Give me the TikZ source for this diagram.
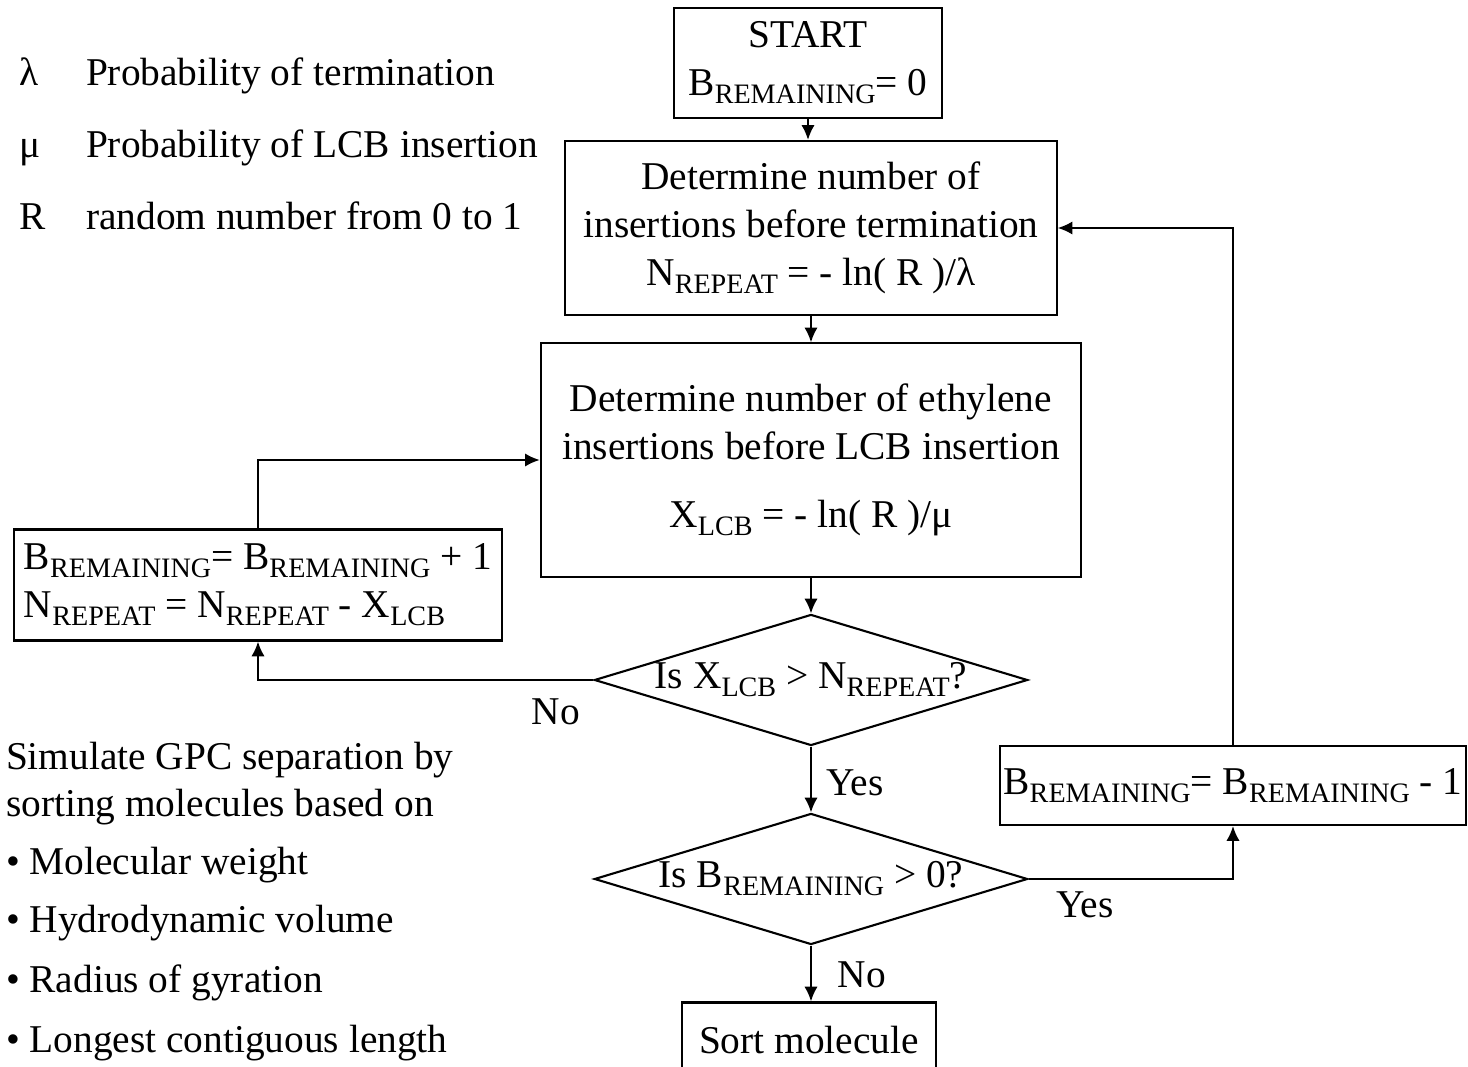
\documentclass[tikz,border=0pt]{standalone}
\usepackage{fontspec}
\setmainfont{Liberation Serif}
\usetikzlibrary{shapes.geometric,arrows.meta}
\newcommand{\sbs}[1]{\raisebox{-2.3pt}{\fontsize{8}{8}\selectfont #1}}

\begin{document}
\begin{tikzpicture}[x=0.01cm, y=-0.01cm, line width=0.6pt,
    >={Latex[length=4.2pt,width=3.8pt]},
    every node/.style={font=\fontsize{11.2}{13.6}\selectfont},
    box/.style={draw, align=center, inner sep=0pt},
    decision/.style={draw, diamond, inner sep=0pt, minimum width=4.33cm, minimum height=1.31cm},
    txt/.style={anchor=base west, inner sep=0pt}]
            \useasboundingbox (0,0) rectangle (1468,1067);

            % Legend
            \node[txt] (lam) at (18,86) {λ};
            \node[txt] (lamtxt) at (85,86) {Probability of termination};
            \node[txt] (mu) at (18,158) {μ};
            \node[txt] (mutxt) at (85,158) {Probability of LCB insertion};
            \node[txt] (rr) at (18,230) {R};
            \node[txt] (rrtxt) at (85,230) {random number from 0 to 1};

            % GPC sorting
            \node[txt] (gpca) at (5,770) {Simulate GPC separation by};
            \node[txt] (gpcb) at (5,817) {sorting molecules based on};
            \node[txt] (mw) at (5,875) {• Molecular weight};
            \node[txt] (hv) at (5,933) {• Hydrodynamic volume};
            \node[txt] (rg) at (5,993) {• Radius of gyration};
            \node[txt] (lcl) at (5,1053) {• Longest contiguous length};

            % Flow nodes
            \node[box, minimum width=2.67cm, minimum height=1.10cm] (start) at (808,63)
                {START\\B\sbs{REMAINING}= 0};
            \node[box, minimum width=4.91cm, minimum height=1.74cm] (det) at (811,228)
                {Determine number of\\insertions before termination\\N\sbs{REPEAT} = - ln( R )/λ};
            \node[box, minimum width=5.40cm, minimum height=2.33cm] (eth) at (811,460)
                {Determine number of ethylene\\insertions before LCB insertion\\[0.2cm]X\sbs{LCB} = - ln( R )/μ};
            \node[decision] (dx) at (811,680) {};
            \node (dxtxt) at (dx) {Is X\sbs{LCB} > N\sbs{REPEAT}?};
            \node[box, align=left, minimum width=4.87cm, minimum height=1.11cm] (incr) at (258,585)
                {B\sbs{REMAINING}= B\sbs{REMAINING} + 1\\N\sbs{REPEAT} = N\sbs{REPEAT} - X\sbs{LCB}};
            \node[decision] (db) at (811,879) {};
            \node (dbtxt) at (db) {Is B\sbs{REMAINING} > 0?};
            \node[box, minimum width=4.66cm, minimum height=0.79cm] (decr) at (1233,785.5)
                {B\sbs{REMAINING}= B\sbs{REMAINING} - 1};
            \node[box, minimum width=2.54cm, minimum height=0.75cm] (sort) at (809,1040) {Sort molecule};

            % Branch labels
            \node (nox) at (556,712) {No};
            \node (yesx) at (855,783) {Yes};
            \node (yesb) at (1085,905) {Yes};
            \node (nob) at (862,975) {No};

            % Edges
            \draw[->] (start) -- (start |- det.north);
            \draw[->] (det) -- (eth);
            \draw[->] (eth) -- (dx);
            \draw[->] (dx.west) -| (incr.south);
            \draw[->] (incr.north) |- (eth.west);
            \draw[->] (dx) -- (db);
            \draw[->] (db.east) -| (decr.south);
            \draw[->] (decr.north) |- (det.east);
            \draw[->] (db.south) -- (db.south |- sort.north);
        \end{tikzpicture}
\end{document}
